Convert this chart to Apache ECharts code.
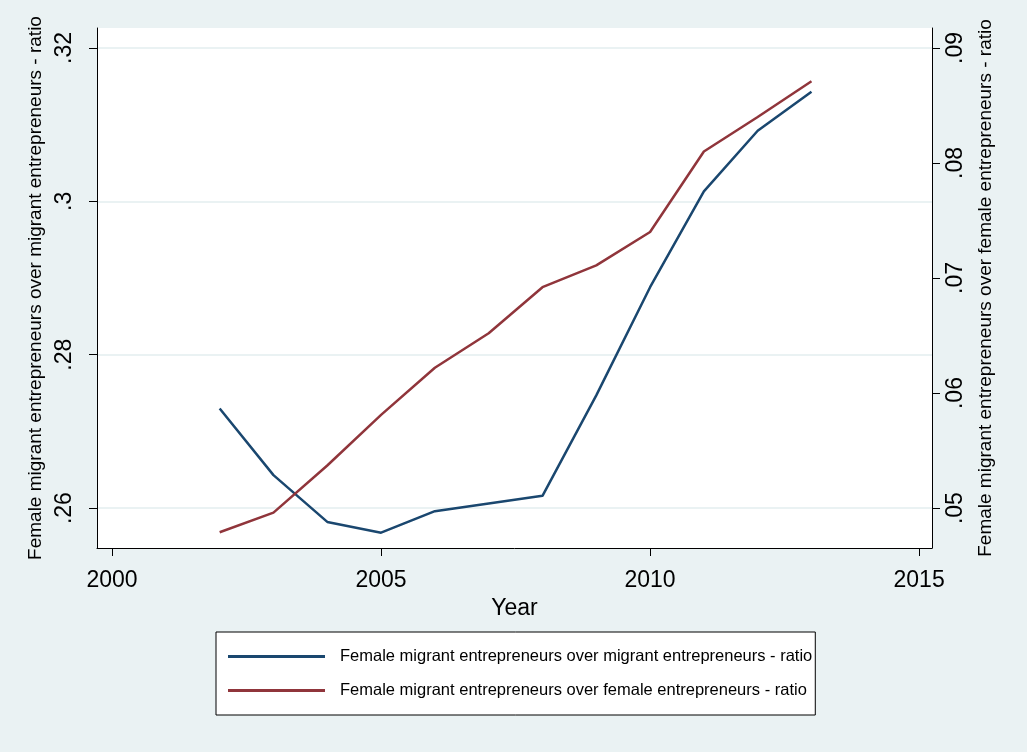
<!DOCTYPE html>
<html>
<head>
<meta charset="utf-8">
<script src="https://cdn.jsdelivr.net/npm/echarts@6/dist/echarts.min.js"></script>
<style>
  html, body { margin: 0; padding: 0; background: #eaf2f3; }
  #chart { width: 1027px; height: 752px; }
</style>
</head>
<body>
<div id="chart"></div>
<script>
// data
var years = [2002, 2003, 2004, 2005, 2006, 2007, 2008, 2009, 2010, 2011, 2012, 2013];
var overMigrant = [0.2730, 0.2643, 0.2582, 0.2568, 0.2596, 0.2606, 0.2616, 0.2747, 0.2888, 0.3013, 0.3092, 0.3143];
var overFemale = [0.0479, 0.0496, 0.0537, 0.0581, 0.0622, 0.0652, 0.0692, 0.0711, 0.0740, 0.0810, 0.0840, 0.0871];
var xTicks = [2000, 2005, 2010, 2015];
var leftTicks = [0.26, 0.28, 0.30, 0.32];
var rightTicks = [0.05, 0.06, 0.07, 0.08, 0.09];
var names = [
  "Female migrant entrepreneurs over migrant entrepreneurs - ratio",
  "Female migrant entrepreneurs over female entrepreneurs - ratio",
];

function pairs(xs, ys) {
  return xs.map(function (x, i) {
    return [x, ys[i]];
  });
}

// stata style: .32 instead of 0.32
function stataNum(v) {
  return String(Number(v.toFixed(3))).replace(/^0/, "");
}

var font = "Liberation Sans, Arial, sans-serif";

var option = {
  backgroundColor: "#eaf2f3",
  animation: false,
  grid: {
    left: 97,
    right: 95,
    top: 28,
    bottom: 204,
    show: true,
    backgroundColor: "#fff",
    borderWidth: 0,
  },
  legend: {
    data: names,
    orient: "vertical",
    left: 216,
    top: 632,
    icon: "rect",
    itemWidth: 97,
    itemHeight: 3,
    itemGap: 17,
    padding: [16, 3, 16, 12],
    backgroundColor: "#fff",
    borderColor: "#000",
    borderWidth: 1,
    borderRadius: 0,
    textStyle: {
      fontFamily: font,
      fontSize: 16.5,
      color: "#000",
      padding: [0, 0, 0, 10],
    },
  },
  xAxis: {
    type: "value",
    min: 1999.72,
    max: 2015.24,
    name: "Year",
    nameLocation: "middle",
    nameGap: 45,
    nameTextStyle: { fontFamily: font, fontSize: 23, color: "#000" },
    axisLine: { show: true, lineStyle: { color: "#000", width: 1 } },
    axisTick: {
      show: true,
      length: 8,
      customValues: xTicks,
      lineStyle: { color: "#000" },
    },
    axisLabel: {
      customValues: xTicks,
      margin: 21,
      fontFamily: font,
      fontSize: 23,
      color: "#000",
      formatter: function (v) {
        return String(v);
      },
    },
    splitLine: { show: false },
  },
  yAxis: [
    {
      type: "value",
      position: "left",
      min: 0.2548,
      max: 0.3226,
      name: names[0],
      nameLocation: "middle",
      nameRotate: 90,
      nameGap: 46,
      nameTextStyle: { fontFamily: font, fontSize: 19, color: "#000" },
      axisLine: { show: true, lineStyle: { color: "#000", width: 1 } },
      axisTick: {
        show: true,
        length: 8,
        customValues: leftTicks,
        lineStyle: { color: "#000" },
      },
      axisLabel: {
        customValues: leftTicks,
        rotate: 90,
        margin: 21,
        fontFamily: font,
        fontSize: 23,
        color: "#000",
        formatter: stataNum,
      },
      splitLine: {
        show: true,
        lineStyle: { color: "#eaf2f3", width: 2 },
      },
    },
    {
      type: "value",
      position: "right",
      min: 0.04653,
      max: 0.09173,
      name: names[1],
      nameLocation: "middle",
      nameRotate: 90,
      nameGap: 44,
      nameTextStyle: { fontFamily: font, fontSize: 19, color: "#000" },
      axisLine: { show: true, lineStyle: { color: "#000", width: 1 } },
      axisTick: {
        show: true,
        length: 8,
        customValues: rightTicks,
        lineStyle: { color: "#000" },
      },
      axisLabel: {
        customValues: rightTicks,
        rotate: 90,
        margin: 12,
        fontFamily: font,
        fontSize: 23,
        color: "#000",
        formatter: stataNum,
      },
      splitLine: { show: false },
    },
  ],
  series: [
    {
      name: names[0],
      type: "line",
      yAxisIndex: 0,
      data: pairs(years, overMigrant),
      showSymbol: false,
      color: "#1a476f",
      lineStyle: { width: 2.5, color: "#1a476f" },
    },
    {
      name: names[1],
      type: "line",
      yAxisIndex: 1,
      data: pairs(years, overFemale),
      showSymbol: false,
      color: "#90353b",
      lineStyle: { width: 2.5, color: "#90353b" },
    },
  ],
};

var myChart = echarts.init(document.getElementById("chart"));
myChart.setOption(option);
</script>
</body>
</html>
